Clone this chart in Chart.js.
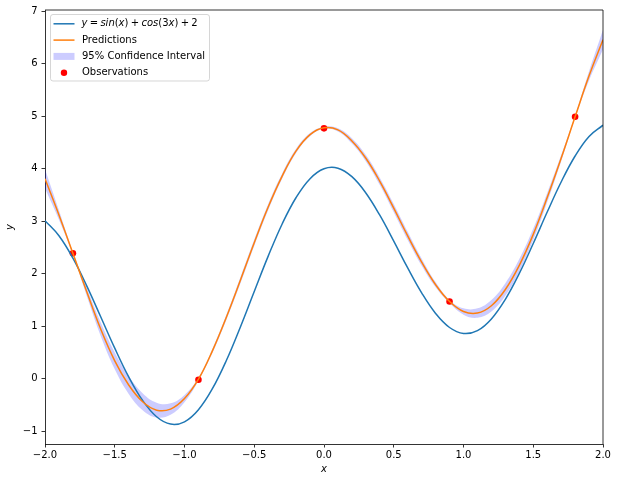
<!DOCTYPE html>
<html><head><meta charset="utf-8">
<script src="https://cdn.jsdelivr.net/npm/chart.js@4.4.0/dist/chart.umd.min.js"></script>
<style>html,body{margin:0;padding:0;background:#fff;}canvas{display:block;}</style>
</head><body>
<canvas id="c" width="618" height="482"></canvas>
<script>
// ---- data ----
const xs = [-2.0,-1.9,-1.8,-1.7,-1.6,-1.5,-1.4,-1.3,-1.2,-1.1,-1.0,-0.9,-0.8,-0.7,-0.6,-0.5,-0.4,-0.3,-0.2,-0.1,0.0,
            0.1,0.2,0.3,0.4,0.5,0.6,0.7,0.8,0.9,1.0,1.1,1.2,1.3,1.4,1.5,1.6,1.7,1.8,1.9,2.0];
const trueY = [3.011,2.723,2.296,1.764,1.175,0.581,0.034,-0.416,-0.726,-0.866,-0.822,-0.592,-0.192,0.346,0.981,1.662,2.335,2.948,3.452,3.811,4.000,
               4.011,3.849,3.539,3.114,2.621,2.110,1.635,1.243,0.975,0.862,0.916,1.139,1.512,2.005,2.576,3.175,3.748,4.243,4.616,4.830];
const predY = [3.81,3.12,2.39,1.65,0.94,0.34,-0.12,-0.44,-0.60,-0.58,-0.38,-0.01,0.53,1.17,1.87,2.59,3.27,3.86,4.34,4.65,4.78,
               4.74,4.53,4.20,3.76,3.25,2.72,2.22,1.79,1.47,1.28,1.25,1.39,1.70,2.16,2.75,3.45,4.20,4.99,5.77,6.46];
const ciLower = [3.63,3.03,2.36,1.57,0.81,0.18,-0.29,-0.60,-0.74,-0.69,-0.45,-0.04,0.49,1.12,1.81,2.53,3.21,3.81,4.30,4.62,4.76,
                 4.71,4.48,4.14,3.69,3.17,2.64,2.15,1.74,1.44,1.22,1.16,1.28,1.58,2.04,2.64,3.36,4.14,4.96,5.68,6.27];
const ciUpper = [3.99,3.21,2.42,1.73,1.07,0.50,0.05,-0.28,-0.46,-0.47,-0.31,0.02,0.57,1.22,1.93,2.65,3.33,3.91,4.38,4.68,4.80,
                 4.77,4.58,4.26,3.83,3.33,2.80,2.29,1.84,1.50,1.34,1.34,1.50,1.82,2.28,2.86,3.54,4.26,5.02,5.86,6.65];
const obsX = [-1.8,-0.9,0.0,0.9,1.8];
const obsY = [2.39,-0.02,4.77,1.47,4.99];
const xTicks = [-2,-1.5,-1,-0.5,0,0.5,1,1.5,2];
const yTicks = [-1,0,1,2,3,4,5,6,7];
const seriesNames = ['Predictions','95% Confidence Interval','Observations'];

const FONT = 'DejaVu Sans';
const pts = (ys) => xs.map((x,i)=>({x:x,y:ys[i]}));
const fmtNum = (v,d) => (v<0?'\u2212':'') + Math.abs(v).toFixed(d);

const framePlugin = {
  id:'frame',
  afterDatasetsDraw(chart){
    const {ctx, chartArea:a} = chart;
    ctx.save();
    ctx.strokeStyle='#000'; ctx.lineWidth=0.8;
    ctx.beginPath();
    ctx.moveTo(a.left, a.top); ctx.lineTo(a.right, a.top); ctx.lineTo(a.right, a.bottom);
    ctx.stroke();
    ctx.restore();
  }
};

function rrect(ctx,x,y,w,h,r){
  ctx.beginPath();
  ctx.moveTo(x+r,y); ctx.lineTo(x+w-r,y); ctx.arcTo(x+w,y,x+w,y+r,r);
  ctx.lineTo(x+w,y+h-r); ctx.arcTo(x+w,y+h,x+w-r,y+h,r);
  ctx.lineTo(x+r,y+h); ctx.arcTo(x,y+h,x,y+h-r,r);
  ctx.lineTo(x,y+r); ctx.arcTo(x,y,x+r,y,r); ctx.closePath();
}

const legendPlugin = {
  id:'mplLegend',
  afterDraw(chart){
    const ctx = chart.ctx;
    ctx.save();
    rrect(ctx,50.5,14.5,159,66.5,2.5);
    ctx.fillStyle='rgba(255,255,255,0.8)'; ctx.fill();
    ctx.strokeStyle='rgba(204,204,204,0.8)'; ctx.lineWidth=1; ctx.stroke();
    const rows=[23.8,40.1,56.4,72.7];
    const hx0=53.5, hx1=74.5, tx=82;
    ctx.lineWidth=1.5;
    ctx.strokeStyle='#1f77b4'; ctx.beginPath(); ctx.moveTo(hx0,rows[0]); ctx.lineTo(hx1,rows[0]); ctx.stroke();
    ctx.strokeStyle='#ff7f0e'; ctx.beginPath(); ctx.moveTo(hx0,rows[1]); ctx.lineTo(hx1,rows[1]); ctx.stroke();
    ctx.fillStyle='rgba(0,0,255,0.2)'; ctx.fillRect(hx0,rows[2]-3.5,hx1-hx0,7);
    ctx.fillStyle='#ff0000'; ctx.beginPath(); ctx.arc((hx0+hx1)/2,rows[3],3.2,0,Math.PI*2); ctx.fill();
    ctx.fillStyle='#000'; ctx.textBaseline='middle'; ctx.textAlign='left';
    const segs=[['y',1],['=',2],['sin',1],['(',0],['x',1],[')',0],['+',2],['cos',1],['(',0],['3',0],['x',1],[')',0],['+',2],['2',0]];
    let x=tx-0.5;
    for(const [t,k] of segs){
      ctx.font=(k===1?'italic ':'')+'10px "'+FONT+'"';
      if(k===2){ x+=2.3; ctx.fillText(t,x,rows[0]); x+=ctx.measureText(t).width+2.3; }
      else { ctx.fillText(t,x,rows[0]); x+=ctx.measureText(t).width; }
    }
    ctx.font='10px "'+FONT+'"';
    ctx.fillText(seriesNames[0],tx,rows[1]);
    ctx.fillText(seriesNames[1],tx,rows[2]);
    ctx.fillText(seriesNames[2],tx,rows[3]);
    ctx.restore();
  }
};

const tickFont = {family:FONT, size:10};
const curve = {tension:0.4, pointRadius:0};
new Chart(document.getElementById('c'), {
  type:'line',
  data:{datasets:[
    Object.assign({label:seriesNames[0], data:pts(predY), borderColor:'#ff7f0e', borderWidth:1.5, fill:false, order:0}, curve),
    Object.assign({label:'true', data:pts(trueY), borderColor:'#1f77b4', borderWidth:1.5, fill:false, order:1}, curve),
    {label:seriesNames[2], data:obsX.map((x,i)=>({x:x,y:obsY[i]})), showLine:false, pointRadius:3.3, pointBorderWidth:0,
      pointBackgroundColor:'#ff0000', backgroundColor:'#ff0000', borderColor:'#ff0000', order:2},
    Object.assign({label:'lower', data:pts(ciLower), borderWidth:0, fill:false, order:4}, curve),
    Object.assign({label:seriesNames[1], data:pts(ciUpper), borderWidth:0, fill:'-1',
      backgroundColor:'rgba(0,0,255,0.2)', order:3}, curve)
  ]},
  options:{
    responsive:false, animation:false, devicePixelRatio:1,
    layout:{padding:{left:0,right:15,top:10,bottom:0}},
    plugins:{legend:{display:false}, tooltip:{enabled:false}},
    scales:{
      x:{type:'linear', min:-2, max:2,
        afterBuildTicks:s=>{s.ticks=xTicks.map(v=>({value:v}));},
        afterFit:s=>{s.height=38;},
        grid:{drawOnChartArea:false, drawTicks:true, tickLength:3.5, color:'#000', lineWidth:0.8},
        border:{display:true, color:'#000', width:0.8},
        ticks:{font:tickFont, color:'#000', padding:2, maxRotation:0, autoSkip:false, callback:v=>fmtNum(v,1)},
        title:{display:true, text:'x', color:'#000', font:{family:FONT,size:10,style:'italic'}, padding:{top:0,bottom:7}}
      },
      y:{type:'linear', min:-1.245, max:7.025,
        afterBuildTicks:s=>{s.ticks=yTicks.map(v=>({value:v}));},
        afterFit:s=>{s.width=45;},
        grid:{drawOnChartArea:false, drawTicks:true, tickLength:3.5, color:'#000', lineWidth:0.8},
        border:{display:true, color:'#000', width:0.8},
        ticks:{font:tickFont, color:'#000', padding:4, autoSkip:false, callback:v=>fmtNum(v,0)},
        title:{display:true, text:'y', color:'#000', font:{family:FONT,size:10,style:'italic'}, padding:{top:4,bottom:0}}
      }
    }
  },
  plugins:[framePlugin, legendPlugin]
});
</script>
</body></html>
